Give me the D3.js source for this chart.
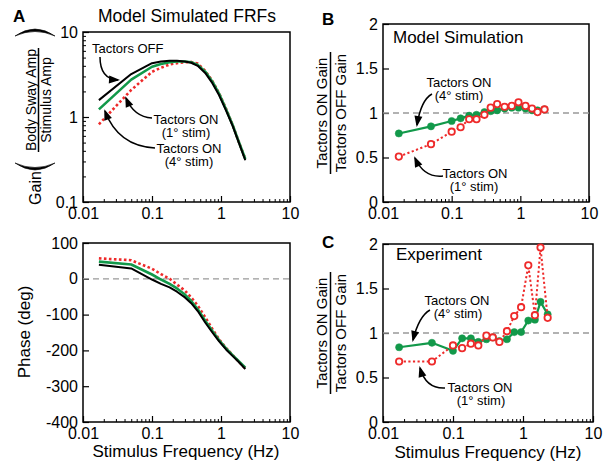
<!DOCTYPE html>
<html><head><meta charset="utf-8">
<script src="https://cdn.jsdelivr.net/npm/d3@7"></script>
<style>body{margin:0;background:#fff}svg{display:block;font-family:"Liberation Sans",Arial,Helvetica,sans-serif}</style>
</head><body>
<svg id="c" width="611" height="464"></svg>
<script>
// ---------- data ----------
const freqs = [0.017,0.05,0.1,0.135,0.18,0.23,0.3,0.37,0.46,0.59,0.75,0.94,1.19,1.48,1.78,2.25];
// Panel A gain (model simulated FRFs)
const gainOff = [1.58,3.2,4.3,4.5,4.6,4.6,4.5,4.35,4.0,3.3,2.5,1.8,1.18,0.78,0.52,0.31];
const gainOn4 = [1.23,2.75,3.9,4.2,4.4,4.5,4.5,4.4,4.1,3.42,2.6,1.87,1.22,0.8,0.53,0.32];
const gainOn1 = [0.82,2.08,3.4,3.8,4.15,4.3,4.4,4.45,4.25,3.5,2.65,1.9,1.24,0.8,0.53,0.32];
// Panel A phase
const phaseOff = [39,29,-2,-14,-24,-36,-52,-68,-90,-122,-150,-175,-198,-216,-231,-252];
const phaseOn4 = [48,40,12,-2,-14,-27,-44,-62,-85,-117,-146,-172,-195,-214,-229,-248];
const phaseOn1 = [57,52,28,13,0,-16,-33,-52,-75,-107,-140,-169,-194,-213,-230,-250];
// Panel B ratios (model simulation)
const ratioB4 = [0.77,0.85,0.91,0.94,0.97,0.98,1.01,1.02,1.03,1.05,1.06,1.06,1.05,1.03,1.03,1.04];
const ratioB1 = [0.51,0.65,0.79,0.84,0.93,0.93,0.98,1.06,1.10,1.07,1.08,1.12,1.08,1.05,1.01,1.04];
// Panel C ratios (experiment)
const ratioC4 = [0.84,0.89,0.80,0.94,0.94,0.90,0.93,0.95,0.91,0.93,1.01,1.01,1.14,1.15,1.35,1.21];
const ratioC1 = [0.68,0.68,0.86,0.83,0.88,0.86,0.97,0.95,0.90,1.02,1.19,1.29,1.76,1.20,1.96,1.17];
// tick labels
const xTickVals = [0.01,0.1,1,10];
const xTickLabels = ["0.01","0.1","1","10"];
const gainTickVals = [0.1,1,10];
const gainTickLabels = ["0.1","1","10"];
const phaseTickVals = [100,0,-100,-200,-300,-400];
const phaseTickLabels = ["100","0","-100","-200","-300","-400"];
const ratioTickVals = [0,0.5,1,1.5,2];
const ratioTickLabels = ["0","0.5","1","1.5","2"];

const GREEN = "#12994a", RED = "#ee2a2a";
const svg = d3.select("#c");
const FONT_TICK = 16;

function minorLog(lo, hi){
  const out=[];
  for(let d=lo; d<hi*0.999; d*=10) for(let k=2;k<=9;k++) out.push(k*d);
  return out;
}
function fmtFrom(vals, labels){ return v => { const i = vals.findIndex(t=>Math.abs(t-v)<1e-9); return i>=0?labels[i]:""; }; }

function frame(x, y, opts){
  const [x0,x1]=x.range(), [y1,y0]=y.range();
  const g = svg.append("g");
  const bx = g.append("g").attr("transform",`translate(0,${y1})`)
    .call(d3.axisBottom(x).tickValues(xTickVals).tickSize(-6).tickPadding(6).tickFormat(fmtFrom(xTickVals,xTickLabels)));
  bx.select(".domain").remove();
  bx.selectAll("text").attr("font-size",FONT_TICK).attr("font-family",null);
  bx.selectAll("line").attr("stroke-width",1.2);
  const bm = g.append("g").attr("transform",`translate(0,${y1})`)
    .call(d3.axisBottom(x).tickValues(minorLog(0.01,10)).tickSize(-3).tickFormat(""));
  bm.select(".domain").remove();
  bm.selectAll("line").attr("stroke-width",1);
  const la = g.append("g").attr("transform",`translate(${x0},0)`)
    .call(d3.axisLeft(y).tickValues(opts.yVals).tickSize(-6).tickPadding(5).tickFormat(fmtFrom(opts.yVals,opts.yLabels)));
  la.select(".domain").remove();
  la.selectAll("text").attr("font-size",FONT_TICK).attr("font-family",null);
  la.selectAll("line").attr("stroke-width",1.2);
  if(opts.yMinor){
    const lm = g.append("g").attr("transform",`translate(${x0},0)`)
      .call(d3.axisLeft(y).tickValues(opts.yMinor).tickSize(-3).tickFormat(""));
    lm.select(".domain").remove();
    lm.selectAll("line").attr("stroke-width",1);
  }
  g.append("rect").attr("x",x0).attr("y",y0).attr("width",x1-x0).attr("height",y1-y0)
    .attr("fill","none").attr("stroke","#000").attr("stroke-width",1.5);
  if(opts.ref!==undefined){
    g.append("line").attr("x1",x0).attr("x2",x1).attr("y1",y(opts.ref)).attr("y2",y(opts.ref))
      .attr("stroke","#999").attr("stroke-width",1.3).attr("stroke-dasharray","6,4");
  }
  return g;
}

function curve(x,y,vals,color,w,dash){
  const line = d3.line().x((d,i)=>x(freqs[i])).y(d=>y(d));
  const p = svg.append("path").attr("d",line(vals)).attr("fill","none")
    .attr("stroke",color).attr("stroke-width",w).attr("stroke-linejoin","round");
  if(dash) p.attr("stroke-dasharray",dash).attr("stroke-linecap","butt");
  return p;
}
function markers(x,y,vals,filled){
  svg.append("g").selectAll("circle").data(vals).join("circle")
    .attr("cx",(d,i)=>x(freqs[i])).attr("cy",d=>y(d))
    .attr("r",filled?3.6:3.2)
    .attr("fill",filled?GREEN:"#fff").attr("stroke",filled?GREEN:RED).attr("stroke-width",filled?0.5:1.8);
}
function text(xp,yp,s,size,anchor,weight){
  return svg.append("text").attr("x",xp).attr("y",yp).attr("font-size",size)
    .attr("text-anchor",anchor||"start").attr("font-weight",weight||"normal").text(s);
}
function arrow(sx,sy,cx,cy,ex,ey){
  svg.append("path").attr("d",`M${sx},${sy}Q${cx},${cy} ${ex},${ey}`).attr("fill","none")
    .attr("stroke","#000").attr("stroke-width",1.5);
  const ang = Math.atan2(ey-cy, ex-cx), L=9, W=4;
  const bx = ex - L*Math.cos(ang), by = ey - L*Math.sin(ang);
  const px = -Math.sin(ang)*W, py = Math.cos(ang)*W;
  svg.append("path").attr("d",`M${ex+2*Math.cos(ang)},${ey+2*Math.sin(ang)}L${bx+px},${by+py}L${bx-px},${by-py}Z`).attr("fill","#000");
}
function rotText(xp,yp,s,size){
  return svg.append("text").attr("transform",`translate(${xp},${yp}) rotate(-90)`)
    .attr("font-size",size).attr("text-anchor","middle").text(s);
}

// ---------- Panel A top: gain ----------
const xA = d3.scaleLog().domain([0.01,10]).range([83,290]);
const yAg = d3.scaleLog().domain([0.1,10]).range([202,32]);
frame(xA,yAg,{yVals:gainTickVals,yLabels:gainTickLabels,yMinor:minorLog(0.1,10)});
curve(xA,yAg,gainOn1,RED,2.6,"2.6,2.4");
curve(xA,yAg,gainOn4,GREEN,2.6);
curve(xA,yAg,gainOff,"#000",2);

// ---------- Panel A bottom: phase ----------
const yAp = d3.scaleLinear().domain([-400,100]).range([422,243]);
frame(xA,yAp,{yVals:phaseTickVals,yLabels:phaseTickLabels,ref:0});
curve(xA,yAp,phaseOn1,RED,2.6,"2.6,2.4");
curve(xA,yAp,phaseOn4,GREEN,2.6);
curve(xA,yAp,phaseOff,"#000",2);

// ---------- Panel B ----------
const xB = d3.scaleLog().domain([0.01,10]).range([383,589]);
const yB = d3.scaleLinear().domain([0,2]).range([202,24]);
frame(xB,yB,{yVals:ratioTickVals,yLabels:ratioTickLabels,ref:1});
curve(xB,yB,ratioB4,GREEN,2.2);
markers(xB,yB,ratioB4,true);
curve(xB,yB,ratioB1,RED,2,"2.2,2.4");
markers(xB,yB,ratioB1,false);

// ---------- Panel C ----------
const xC = d3.scaleLog().domain([0.01,10]).range([383,593]);
const yC = d3.scaleLinear().domain([0,2]).range([422,244]);
frame(xC,yC,{yVals:ratioTickVals,yLabels:ratioTickLabels,ref:1});
curve(xC,yC,ratioC4,GREEN,2.2);
markers(xC,yC,ratioC4,true);
curve(xC,yC,ratioC1,RED,2,"2.2,2.4");
markers(xC,yC,ratioC1,false);

// ---------- texts ----------
text(13,22,"A",17,"start","bold");
text(322,25,"B",17,"start","bold");
text(322,248,"C",17,"start","bold");
text(187,22,"Model Simulated FRFs",17.5,"middle");
text(393,43,"Model Simulation",17,"start");
text(396,260,"Experiment",17,"start");
text(186,457,"Stimulus Frequency (Hz)",17,"middle");
text(488,458,"Stimulus Frequency (Hz)",17,"middle");

// y labels
rotText(30,332,"Phase (deg)",17);
rotText(41,188,"Gain",16);
rotText(36,100,"Body Sway Amp",14);
rotText(51,100,"Stimulus Amp",14);
svg.append("line").attr("x1",38.5).attr("x2",38.5).attr("y1",48).attr("y2",152).attr("stroke","#000").attr("stroke-width",1.5);
// big parentheses (rotated)
svg.append("path").attr("d","M15,36 Q35,22 55,36 Q35,27 15,36Z").attr("fill","#000").attr("stroke","#000").attr("stroke-width",0.6);
svg.append("path").attr("d","M15,163 Q35,177 55,163 Q35,172 15,163Z").attr("fill","#000").attr("stroke","#000").attr("stroke-width",0.6);

rotText(327,113,"Tactors ON Gain",15);
rotText(346,113,"Tactors OFF Gain",15);
svg.append("line").attr("x1",330.5).attr("x2",330.5).attr("y1",52).attr("y2",174).attr("stroke","#000").attr("stroke-width",1.5);
rotText(327,333,"Tactors ON Gain",15);
rotText(346,333,"Tactors OFF Gain",15);
svg.append("line").attr("x1",330.5).attr("x2",330.5).attr("y1",272).attr("y2",394).attr("stroke","#000").attr("stroke-width",1.5);

// annotations panel A
text(92,53,"Tactors OFF",13);
arrow(100,57,100,79,118,80);
text(186,124,"Tactors ON",13,"middle");
text(186,137,"(1° stim)",13,"middle");
arrow(152,118,134,117,126,98);
text(189,153,"Tactors ON",13,"middle");
text(189,166,"(4° stim)",13,"middle");
arrow(155,148,118,146,105,111);

// annotations panel B
text(459,87,"Tactors ON",13,"middle");
text(459,100,"(4° stim)",13,"middle");
arrow(432,94,421,100,417,125);
text(475,178,"Tactors ON",13,"middle");
text(474,191,"(1° stim)",13,"middle");
arrow(443,176,424,178,415,158);

// annotations panel C
text(457,305,"Tactors ON",13,"middle");
text(458,318,"(4° stim)",13,"middle");
arrow(430,310,419,316,413,340);
text(480,392,"Tactors ON",13,"middle");
text(481,405,"(1° stim)",13,"middle");
arrow(445,388,426,389,420,368);
</script>
</body></html>
